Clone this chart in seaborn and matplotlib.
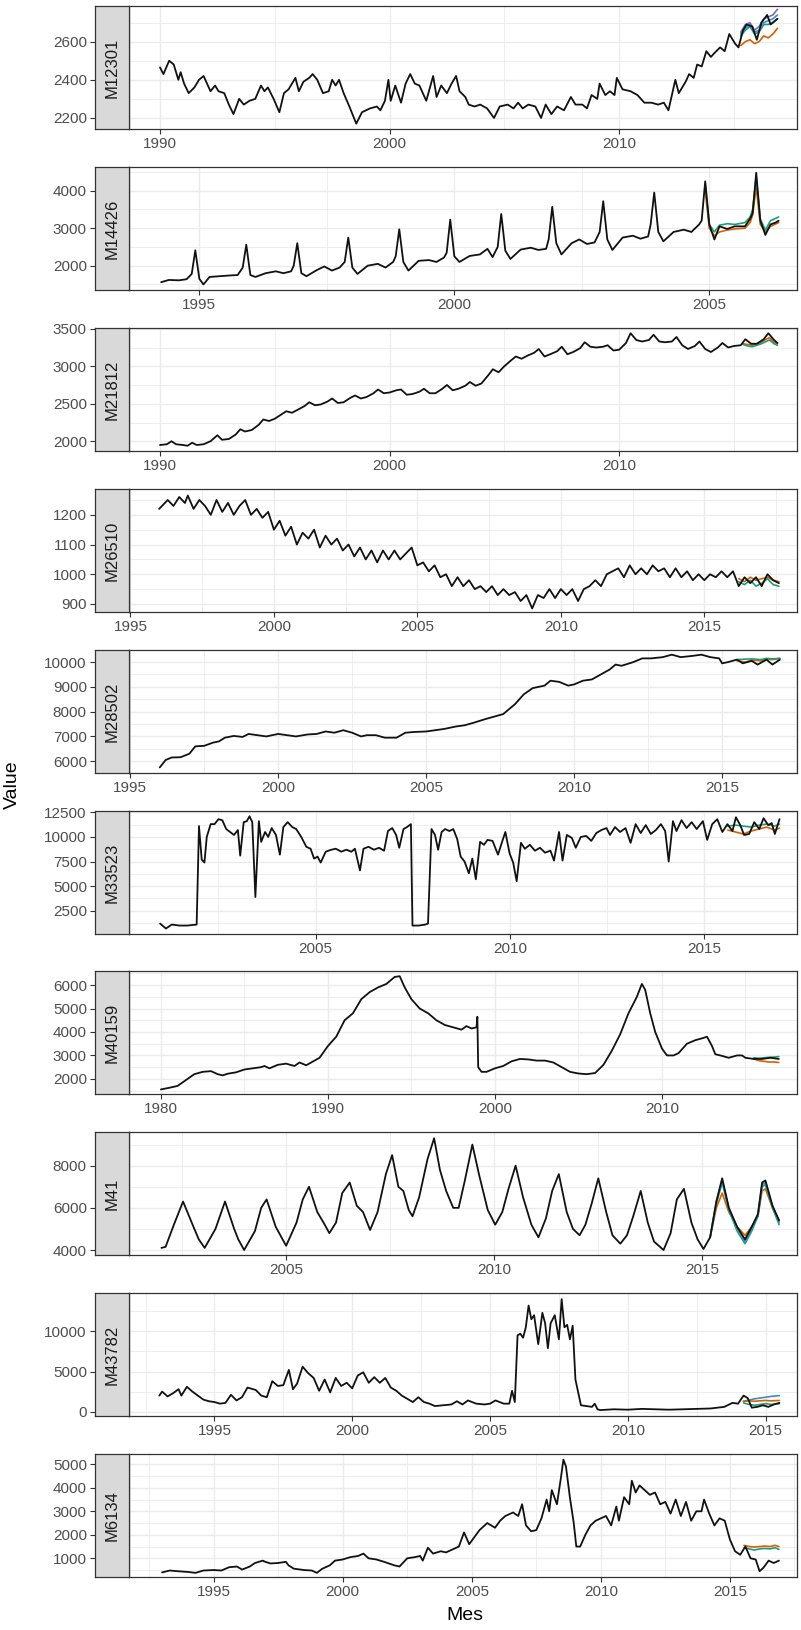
import matplotlib
matplotlib.use("Agg")
import matplotlib.pyplot as plt
import pandas as pd
import seaborn as sns
from matplotlib.ticker import MultipleLocator, FuncFormatter

# ------------------------------------------------------------------ data
# (decimal year, value) pairs
m12301 = [(1990.0,2465),(1990.15,2430),(1990.4,2500),(1990.6,2480),(1990.7,2440),(1990.8,2400),(1990.9,2440),
          (1991.05,2380),(1991.25,2330),(1991.5,2360),(1991.7,2400),(1991.9,2420),(1992.05,2380),(1992.2,2340),
          (1992.4,2370),(1992.55,2340),(1992.8,2330),(1993.0,2270),(1993.2,2220),(1993.45,2300),(1993.65,2270),
          (1993.9,2290),(1994.15,2300),(1994.4,2370),(1994.55,2340),(1994.7,2360),(1994.95,2300),(1995.2,2230),
          (1995.4,2330),(1995.6,2350),(1995.9,2410),(1996.05,2340),(1996.25,2390),(1996.5,2410),(1996.65,2430),
          (1996.85,2400),(1997.1,2330),(1997.35,2340),(1997.5,2400),(1997.65,2370),(1997.8,2400),(1998.0,2330),
          (1998.25,2260),(1998.55,2170),(1998.8,2230),(1999.15,2250),(1999.45,2260),(1999.6,2240),(1999.8,2290),
          (1999.95,2400),(2000.05,2290),(2000.25,2370),(2000.5,2280),(2000.7,2380),(2000.9,2430),(2001.1,2380),
          (2001.3,2370),(2001.6,2290),(2001.9,2420),(2002.05,2310),(2002.25,2370),(2002.5,2330),(2002.7,2380),
          (2002.9,2420),(2003.05,2340),(2003.3,2310),(2003.45,2270),(2003.7,2260),(2003.95,2270),(2004.25,2250),
          (2004.55,2200),(2004.8,2260),(2005.15,2270),(2005.4,2250),(2005.6,2280),(2005.8,2250),(2006.05,2270),
          (2006.35,2260),(2006.6,2200),(2006.8,2270),(2007.05,2220),(2007.3,2260),(2007.6,2240),(2007.9,2310),
          (2008.1,2270),(2008.4,2270),(2008.6,2250),(2008.8,2320),(2009.05,2300),(2009.15,2380),(2009.4,2320),
          (2009.6,2340),(2009.8,2320),(2009.9,2410),(2010.15,2350),(2010.5,2340),(2010.8,2320),(2011.1,2280),
          (2011.4,2280),(2011.7,2270),(2011.95,2280),(2012.15,2240),(2012.45,2400),(2012.6,2330),(2012.9,2390),
          (2013.05,2430),(2013.25,2410),(2013.4,2480),(2013.6,2470),(2013.8,2550),(2014.0,2520),(2014.15,2540),
          (2014.4,2570),(2014.6,2550),(2014.8,2640),(2015.05,2590),(2015.2,2570),(2015.4,2660),(2015.55,2690),
          (2015.8,2680),(2016.0,2610),(2016.2,2700),(2016.45,2740),(2016.6,2690),(2016.9,2720)]
m12301_fc_t = [2015.3, 2015.5, 2015.7, 2015.9, 2016.1, 2016.3, 2016.5, 2016.7, 2016.9]
m12301_fc = {"ETS":   [2580, 2600, 2610, 2590, 2600, 2630, 2620, 2640, 2670],
             "ARIMA": [2630, 2660, 2680, 2640, 2650, 2690, 2690, 2700, 2720],
             "TBATS": [2640, 2670, 2690, 2650, 2660, 2700, 2710, 2720, 2740],
             "NNAR":  [2650, 2690, 2700, 2660, 2680, 2720, 2730, 2740, 2770]}

m14426 = [(1994.25,1560),(1994.4,1620),(1994.6,1610),(1994.75,1640),(1994.85,1780),(1994.92,2410),(1995.0,1650),
          (1995.08,1500),(1995.2,1700),(1995.4,1720),(1995.6,1740),(1995.75,1750),(1995.85,1950),(1995.92,2560),
          (1996.0,1750),(1996.1,1700),(1996.3,1800),(1996.5,1850),(1996.65,1800),(1996.8,1850),(1996.85,2000),
          (1996.92,2600),(1997.0,1800),(1997.1,1720),(1997.3,1880),(1997.45,1980),(1997.6,1870),(1997.75,1950),
          (1997.85,2100),(1997.92,2750),(1998.0,1950),(1998.1,1780),(1998.3,2000),(1998.5,2050),(1998.65,1950),
          (1998.8,2100),(1998.85,2250),(1998.92,2970),(1999.0,2100),(1999.1,1870),(1999.3,2130),(1999.5,2150),
          (1999.65,2100),(1999.8,2220),(1999.85,2350),(1999.92,3230),(2000.0,2250),(2000.1,2100),(2000.3,2260),
          (2000.5,2300),(2000.65,2450),(2000.75,2230),(2000.85,2500),(2000.92,3380),(2001.0,2400),(2001.1,2180),
          (2001.3,2430),(2001.5,2480),(2001.65,2420),(2001.8,2450),(2001.85,2700),(2001.92,3570),(2002.0,2600),
          (2002.1,2300),(2002.3,2600),(2002.45,2700),(2002.6,2580),(2002.75,2620),(2002.85,2900),(2002.92,3720),
          (2003.0,2700),(2003.1,2420),(2003.3,2750),(2003.5,2800),(2003.65,2720),(2003.8,2780),(2003.85,3100),
          (2003.92,3950),(2004.0,2900),(2004.1,2650),(2004.3,2900),(2004.5,2960),(2004.65,2900),(2004.8,3100),
          (2004.85,3200),(2004.92,4250),(2005.0,3100),(2005.1,2700),(2005.2,3050),(2005.35,2980),(2005.5,3050),
          (2005.7,3050),(2005.8,3250),(2005.85,3400),(2005.92,4480),(2006.0,3200),(2006.1,2820),(2006.2,3100),
          (2006.3,3150),(2006.36,3200)]
m14426_fc_t = [2004.92, 2005.0, 2005.1, 2005.2, 2005.35, 2005.5, 2005.7, 2005.8, 2005.85, 2005.92, 2006.0, 2006.1,
               2006.2, 2006.36]
m14426_fc = {"ETS":   [4000, 3000, 2800, 2900, 2950, 2980, 3000, 3150, 3350, 4100, 3100, 2900, 3050, 3150],
             "ARIMA": [4200, 3100, 2900, 3080, 3120, 3100, 3150, 3300, 3500, 4350, 3250, 2950, 3200, 3300]}

m21812 = [(1990.0,1950),(1990.3,1960),(1990.5,2000),(1990.7,1960),(1991.0,1950),(1991.2,1940),(1991.4,1980),
          (1991.6,1950),(1991.9,1960),(1992.2,2000),(1992.5,2080),(1992.7,2020),(1993.0,2030),(1993.3,2090),
          (1993.5,2160),(1993.7,2130),(1994.0,2150),(1994.3,2220),(1994.5,2290),(1994.75,2270),(1995.0,2300),
          (1995.3,2360),(1995.5,2400),(1995.75,2380),(1996.0,2420),(1996.3,2470),(1996.5,2520),(1996.75,2480),
          (1997.0,2490),(1997.3,2530),(1997.5,2570),(1997.75,2510),(1998.0,2520),(1998.3,2580),(1998.5,2610),
          (1998.75,2570),(1999.0,2590),(1999.3,2640),(1999.5,2690),(1999.75,2640),(2000.0,2650),(2000.3,2680),
          (2000.5,2690),(2000.75,2620),(2001.0,2630),(2001.3,2660),(2001.5,2700),(2001.75,2640),(2002.0,2640),
          (2002.3,2700),(2002.5,2750),(2002.75,2680),(2003.0,2700),(2003.3,2740),(2003.5,2790),(2003.75,2740),
          (2004.0,2770),(2004.3,2880),(2004.5,2960),(2004.75,2920),(2005.0,3000),(2005.3,3080),(2005.5,3130),
          (2005.75,3100),(2006.0,3140),(2006.3,3180),(2006.5,3230),(2006.75,3130),(2007.0,3160),(2007.3,3200),
          (2007.5,3260),(2007.75,3160),(2008.0,3190),(2008.3,3240),(2008.5,3320),(2008.75,3260),(2009.0,3250),
          (2009.3,3260),(2009.5,3280),(2009.75,3210),(2010.0,3220),(2010.3,3310),(2010.5,3440),(2010.75,3350),
          (2011.0,3330),(2011.3,3350),(2011.5,3420),(2011.75,3330),(2012.0,3320),(2012.3,3330),(2012.5,3390),
          (2012.75,3280),(2013.0,3230),(2013.3,3270),(2013.5,3330),(2013.75,3230),(2014.0,3190),(2014.3,3250),
          (2014.5,3310),(2014.75,3250),(2015.0,3270),(2015.3,3280),(2015.5,3360),(2015.75,3300),(2016.0,3300),
          (2016.3,3360),(2016.5,3440),(2016.75,3350),(2016.9,3310)]
m21812_fc_t = [2015.4, 2015.6, 2015.8, 2016.0, 2016.2, 2016.4, 2016.55, 2016.75, 2016.9]
m21812_fc = {"ETS":   [3300, 3290, 3280, 3300, 3320, 3360, 3380, 3320, 3300],
             "ARIMA": [3290, 3270, 3260, 3280, 3300, 3330, 3350, 3300, 3280]}

m26510 = [(1996.0,1220),(1996.3,1250),(1996.5,1230),(1996.7,1260),(1996.9,1240),(1997.0,1265),(1997.2,1220),
          (1997.4,1250),(1997.6,1230),(1997.8,1200),(1998.0,1250),(1998.2,1210),(1998.4,1240),(1998.6,1200),
          (1998.8,1230),(1999.0,1250),(1999.2,1200),(1999.4,1220),(1999.6,1190),(1999.8,1210),(2000.0,1150),
          (2000.2,1180),(2000.4,1130),(2000.6,1160),(2000.8,1100),(2001.0,1140),(2001.2,1120),(2001.4,1150),
          (2001.6,1090),(2001.8,1130),(2002.0,1100),(2002.2,1120),(2002.4,1080),(2002.6,1100),(2002.8,1060),
          (2003.0,1090),(2003.2,1050),(2003.4,1080),(2003.6,1040),(2003.8,1080),(2004.0,1050),(2004.2,1080),
          (2004.4,1050),(2004.6,1070),(2004.8,1090),(2005.0,1030),(2005.2,1040),(2005.4,1010),(2005.6,1030),
          (2005.8,990),(2006.0,1000),(2006.2,960),(2006.4,990),(2006.6,960),(2006.8,980),(2007.0,950),
          (2007.2,960),(2007.4,940),(2007.6,960),(2007.8,930),(2008.0,950),(2008.2,930),(2008.4,940),
          (2008.6,910),(2008.8,930),(2009.0,885),(2009.2,930),(2009.4,920),(2009.6,950),(2009.8,920),
          (2010.0,950),(2010.2,930),(2010.4,950),(2010.6,910),(2010.8,950),(2011.0,960),(2011.2,980),
          (2011.4,960),(2011.6,1000),(2011.8,1010),(2012.0,1020),(2012.2,990),(2012.4,1030),(2012.6,1000),
          (2012.8,1020),(2013.0,1000),(2013.2,1030),(2013.4,1010),(2013.6,1020),(2013.8,990),(2014.0,1020),
          (2014.2,990),(2014.4,1010),(2014.6,980),(2014.8,1000),(2015.0,980),(2015.2,1000),(2015.4,990),
          (2015.6,1010),(2015.8,990),(2016.0,1010),(2016.2,960),(2016.4,990),(2016.6,970),(2016.8,990),
          (2017.0,960),(2017.2,1000),(2017.4,980),(2017.6,970)]
m26510_fc_t = [2016.2, 2016.4, 2016.6, 2016.8, 2017.0, 2017.2, 2017.4, 2017.6]
m26510_fc = {"ETS":   [985, 975, 990, 980, 985, 990, 980, 975],
             "ARIMA": [975, 965, 980, 960, 970, 985, 965, 960]}

m28502 = [(1996.0,5750),(1996.2,6050),(1996.4,6150),(1996.7,6160),(1997.0,6300),(1997.2,6600),(1997.5,6620),
          (1997.8,6750),(1998.0,6800),(1998.2,6950),(1998.5,7020),(1998.8,6980),(1999.0,7100),(1999.3,7050),
          (1999.6,7000),(2000.0,7100),(2000.3,7050),(2000.6,7000),(2001.0,7080),(2001.3,7100),(2001.6,7200),
          (2001.9,7150),(2002.2,7250),(2002.5,7150),(2002.8,7000),(2003.0,7050),(2003.3,7050),(2003.6,6950),
          (2004.0,6950),(2004.3,7150),(2004.6,7180),(2005.0,7200),(2005.3,7250),(2005.6,7300),(2006.0,7400),
          (2006.3,7450),(2006.6,7550),(2007.0,7700),(2007.3,7800),(2007.6,7900),(2008.0,8300),(2008.3,8700),
          (2008.6,8950),(2009.0,9050),(2009.2,9250),(2009.5,9200),(2009.8,9050),(2010.0,9100),(2010.3,9250),
          (2010.6,9300),(2010.9,9500),(2011.2,9700),(2011.4,9900),(2011.6,9850),(2012.0,10000),(2012.3,10150),
          (2012.6,10150),(2013.0,10200),(2013.3,10300),(2013.6,10200),(2014.0,10250),(2014.3,10300),
          (2014.6,10200),(2014.9,10150),(2015.0,9950),(2015.2,10000),(2015.5,10100),(2015.7,9950),
          (2016.0,10050),(2016.2,9900),(2016.5,10100),(2016.7,9900),(2016.95,10100)]
m28502_fc_t = [2015.5, 2015.8, 2016.0, 2016.3, 2016.5, 2016.7, 2016.95]
m28502_fc = {"ETS":   [10050, 10000, 10080, 10050, 10120, 10100, 10150],
             "ARIMA": [10100, 10120, 10130, 10100, 10150, 10130, 10150]}

m33523 = [(2001.0,1200),(2001.15,700),(2001.3,1100),(2001.5,1000),(2001.7,1000),(2001.94,1100),(2002.0,11100),
          (2002.07,7700),(2002.14,7400),(2002.2,10000),(2002.3,11300),(2002.4,11300),(2002.5,11800),
          (2002.6,11700),(2002.7,10800),(2002.8,10500),(2002.9,10200),(2003.0,10700),(2003.06,8100),
          (2003.15,11500),(2003.23,11600),(2003.3,12100),(2003.37,11500),(2003.45,3900),(2003.54,11600),
          (2003.6,9500),(2003.7,10500),(2003.78,10000),(2003.87,10900),(2003.98,10200),(2004.08,8200),
          (2004.17,11000),(2004.28,11500),(2004.4,11000),(2004.5,10800),(2004.63,10000),(2004.76,9000),
          (2004.87,8800),(2004.96,7800),(2005.05,8000),(2005.13,7400),(2005.26,8500),(2005.4,8700),
          (2005.52,8800),(2005.66,8500),(2005.79,8700),(2005.92,8500),(2006.01,8800),(2006.14,6600),
          (2006.23,8800),(2006.36,9000),(2006.5,8700),(2006.63,8900),(2006.76,8600),(2006.86,10600),
          (2006.97,10900),(2007.07,10200),(2007.15,8900),(2007.26,10800),(2007.35,11000),(2007.45,11300),
          (2007.49,1000),(2007.65,1000),(2007.82,1100),(2007.89,1200),(2007.98,10800),(2008.07,10200),
          (2008.15,8700),(2008.24,10500),(2008.33,10800),(2008.44,10600),(2008.54,10800),(2008.64,9800),
          (2008.73,8000),(2008.83,7500),(2008.94,6300),(2009.03,7800),(2009.12,5700),(2009.23,9500),
          (2009.33,9200),(2009.42,9700),(2009.55,9600),(2009.69,8200),(2009.82,9800),(2009.88,10500),
          (2009.99,8300),(2010.08,7400),(2010.17,5500),(2010.28,9400),(2010.38,8800),(2010.51,9200),
          (2010.64,8600),(2010.77,8900),(2010.9,8400),(2011.04,8600),(2011.13,7600),(2011.26,10500),
          (2011.35,7600),(2011.46,10200),(2011.59,9900),(2011.69,8900),(2011.82,10000),(2011.96,10100),
          (2012.09,9600),(2012.22,10400),(2012.35,10700),(2012.48,10900),(2012.57,10200),(2012.7,11000),
          (2012.83,10500),(2012.97,10900),(2013.1,9400),(2013.23,11300),(2013.36,10400),(2013.49,11200),
          (2013.62,10300),(2013.75,10700),(2013.88,11300),(2013.99,10600),(2014.08,7500),(2014.19,11600),
          (2014.28,10600),(2014.41,11700),(2014.54,10900),(2014.67,11500),(2014.8,10800),(2014.96,11600),
          (2015.07,9700),(2015.2,11300),(2015.33,11800),(2015.46,10500),(2015.59,11300),(2015.72,10600),
          (2015.81,12000),(2015.92,11200),(2016.02,10200),(2016.15,10300),(2016.28,11500),(2016.41,10800),
          (2016.52,11900),(2016.64,11200),(2016.73,11400),(2016.81,10300),(2016.93,11800)]
m33523_fc_t = [2015.6, 2015.8, 2016.0, 2016.2, 2016.4, 2016.6, 2016.8, 2016.93]
m33523_fc = {"ETS":   [10700, 10500, 10300, 10600, 10800, 11000, 10700, 10900],
             "ARIMA": [11100, 11200, 11100, 11000, 11200, 11300, 11100, 11300]}

m40159 = [(1980.0,1550),(1980.5,1620),(1981.0,1700),(1981.5,1950),(1982.0,2200),(1982.5,2300),(1983.0,2330),
          (1983.4,2200),(1983.7,2150),(1984.0,2220),(1984.5,2280),(1985.0,2400),(1985.5,2450),(1986.0,2500),
          (1986.2,2550),(1986.5,2450),(1987.0,2600),(1987.5,2650),(1988.0,2550),(1988.3,2700),(1988.7,2580),
          (1989.0,2700),(1989.5,2900),(1990.0,3400),(1990.5,3800),(1991.0,4500),(1991.5,4800),(1992.0,5400),
          (1992.5,5700),(1993.0,5900),(1993.5,6050),(1994.0,6350),(1994.3,6380),(1994.6,5900),(1995.0,5400),
          (1995.5,5000),(1996.0,4800),(1996.5,4500),(1997.0,4300),(1997.5,4200),(1998.0,4100),(1998.3,4250),
          (1998.6,4150),(1998.9,4200),(1998.95,4650),(1999.0,2500),(1999.2,2300),(1999.5,2300),(2000.0,2450),
          (2000.5,2550),(2001.0,2750),(2001.5,2850),(2002.0,2830),(2002.5,2780),(2003.0,2780),(2003.5,2700),
          (2004.0,2500),(2004.5,2300),(2005.0,2230),(2005.5,2200),(2006.0,2250),(2006.5,2600),(2007.0,3200),
          (2007.5,3900),(2008.0,4800),(2008.5,5500),(2008.8,6050),(2009.0,5800),(2009.3,4800),(2009.6,4000),
          (2010.0,3300),(2010.3,3000),(2010.7,3000),(2011.0,3100),(2011.5,3500),(2012.0,3650),(2012.5,3750),
          (2012.7,3800),(2013.0,3400),(2013.2,3050),(2013.5,3000),(2014.0,2900),(2014.5,3000),(2014.8,3000),
          (2015.0,2900),(2015.5,2850),(2016.0,2850),(2016.5,2900),(2017.0,2850)]
m40159_fc_t = [2015.5, 2015.8, 2016.1, 2016.4, 2016.7, 2017.0]
m40159_fc = {"ETS":   [2850, 2780, 2750, 2720, 2720, 2700],
             "ARIMA": [2900, 2880, 2900, 2920, 2930, 2950]}

m41 = [(2002.0,4100),(2002.1,4150),(2002.3,5200),(2002.52,6300),(2002.75,5200),(2002.9,4500),(2003.04,4100),
       (2003.3,5000),(2003.53,6300),(2003.75,5000),(2003.85,4500),(2003.99,4000),(2004.25,4900),(2004.4,6000),
       (2004.53,6400),(2004.75,5100),(2005.0,4200),(2005.25,5300),(2005.4,6400),(2005.55,7000),(2005.75,5800),
       (2005.9,5300),(2006.04,4800),(2006.2,5300),(2006.35,6700),(2006.53,7200),(2006.7,6100),(2006.85,5800),
       (2007.02,4950),(2007.2,5800),(2007.4,7600),(2007.55,8500),(2007.7,7000),(2007.82,6800),(2007.95,5900),
       (2008.04,5600),(2008.2,6500),(2008.4,8300),(2008.56,9300),(2008.7,7800),(2008.85,6800),(2009.02,6000),
       (2009.15,6000),(2009.3,7300),(2009.48,9000),(2009.65,7500),(2009.85,5900),(2010.03,5200),(2010.2,5800),
       (2010.35,6900),(2010.52,8000),(2010.7,6500),(2010.9,5200),(2011.07,4600),(2011.25,5500),(2011.4,6800),
       (2011.56,7600),(2011.75,5800),(2011.9,5000),(2012.06,4700),(2012.2,5200),(2012.35,6200),(2012.51,7400),
       (2012.7,5800),(2012.85,4700),(2013.04,4300),(2013.2,4700),(2013.35,5600),(2013.53,6800),(2013.7,5300),
       (2013.85,4400),(2014.08,4000),(2014.25,4800),(2014.4,6400),(2014.57,6900),(2014.75,5300),(2014.9,4500),
       (2015.04,4050),(2015.2,4600),(2015.35,6300),(2015.49,7400),(2015.65,6000),(2015.85,5100),(2016.04,4500),
       (2016.2,5100),(2016.35,5700),(2016.45,7200),(2016.53,7300),(2016.7,6100),(2016.86,5400)]
m41_fc_t = [2015.2, 2015.35, 2015.49, 2015.65, 2015.85, 2016.04, 2016.2, 2016.35, 2016.45, 2016.53, 2016.7, 2016.86]
m41_fc = {"ETS":   [4600, 6000, 6700, 5800, 5100, 4700, 5100, 5600, 6800, 6900, 6000, 5400],
          "ARIMA": [4600, 6200, 7200, 5900, 4900, 4300, 4900, 5600, 7000, 7100, 6000, 5200],
          "TBATS": [4600, 6300, 7300, 6000, 5000, 4400, 5000, 5700, 7100, 7200, 6100, 5300]}

m43782 = [(1993.0,2000),(1993.1,2500),(1993.3,1900),(1993.5,2300),(1993.7,2800),(1993.8,2000),(1994.0,3100),
          (1994.2,2500),(1994.4,2000),(1994.6,1500),(1994.8,1300),(1995.0,1200),(1995.2,1000),(1995.4,1100),
          (1995.6,2100),(1995.8,1400),(1996.0,1800),(1996.2,3000),(1996.5,2700),(1996.7,2000),(1996.9,1800),
          (1997.1,3800),(1997.3,3200),(1997.5,3300),(1997.7,5200),(1997.85,2800),(1998.0,3500),(1998.2,5600),
          (1998.4,4800),(1998.6,4200),(1998.8,2600),(1999.0,4000),(1999.2,2400),(1999.4,4200),(1999.6,3200),
          (1999.8,3600),(2000.0,2900),(2000.2,4500),(2000.4,4900),(2000.6,3600),(2000.8,4300),(2001.0,3600),
          (2001.2,4200),(2001.4,3000),(2001.6,2600),(2001.8,2000),(2002.0,1600),(2002.2,1200),(2002.4,1800),
          (2002.6,1200),(2002.8,1000),(2003.0,700),(2003.3,800),(2003.6,900),(2003.8,1300),(2004.0,900),
          (2004.2,1400),(2004.5,1000),(2004.8,900),(2005.0,1000),(2005.2,1400),(2005.5,1000),(2005.7,1000),
          (2005.8,2600),(2005.9,1200),(2006.0,9500),(2006.1,9700),(2006.2,9200),(2006.3,10500),(2006.4,13200),
          (2006.5,11500),(2006.6,12000),(2006.75,8400),(2006.9,12300),(2007.0,11000),(2007.1,7900),
          (2007.2,11000),(2007.35,12000),(2007.5,9000),(2007.6,14000),(2007.7,10500),(2007.8,10800),
          (2007.9,9000),(2008.0,10700),(2008.1,4000),(2008.2,2400),(2008.3,800),(2008.5,700),(2008.7,600),
          (2008.8,1000),(2008.9,300),(2009.0,200),(2009.5,300),(2010.0,250),(2010.5,350),(2011.0,300),
          (2011.5,250),(2012.0,300),(2012.5,350),(2013.0,400),(2013.5,600),(2013.8,1100),(2014.0,1000),
          (2014.2,2000),(2014.35,1700),(2014.5,500),(2014.7,600),(2014.9,800),(2015.1,600),(2015.3,900),
          (2015.5,1100)]
m43782_fc_t = [2014.2, 2014.4, 2014.6, 2014.8, 2015.0, 2015.2, 2015.5]
m43782_fc = {"TBATS": [1300, 1450, 1600, 1700, 1800, 1900, 2000],
             "ETS":   [1300, 1350, 1300, 1350, 1400, 1350, 1400],
             "ARIMA": [1100, 900, 800, 900, 1000, 900, 1000]}

m6134 = [(1993.0,400),(1993.3,480),(1993.6,450),(1994.0,420),(1994.3,380),(1994.6,480),(1995.0,500),(1995.3,480),
         (1995.6,620),(1995.9,650),(1996.1,520),(1996.4,650),(1996.6,800),(1996.9,900),(1997.0,850),(1997.2,780),
         (1997.5,800),(1997.8,850),(1997.9,700),(1998.1,560),(1998.5,500),(1998.8,480),(1999.0,380),(1999.2,550),
         (1999.5,700),(1999.7,900),(2000.0,950),(2000.3,1050),(2000.6,1100),(2000.8,1200),(2001.0,1000),
         (2001.3,950),(2001.6,850),(2002.0,700),(2002.2,650),(2002.5,1000),(2002.8,1050),(2003.0,1100),
         (2003.1,900),(2003.3,1450),(2003.5,1200),(2003.8,1300),(2004.0,1250),(2004.3,1400),(2004.5,1500),
         (2004.7,2100),(2004.9,1600),(2005.1,1900),(2005.3,2200),(2005.6,2500),(2005.9,2300),(2006.1,2600),
         (2006.3,2800),(2006.6,2950),(2006.8,2800),(2006.95,3300),(2007.1,2400),(2007.3,2150),(2007.5,2200),
         (2007.7,2700),(2007.9,3500),(2008.0,3000),(2008.1,3900),(2008.3,3300),(2008.45,4400),(2008.55,5200),
         (2008.65,4900),(2008.8,3600),(2008.95,2500),(2009.05,1500),(2009.2,1500),(2009.4,2000),(2009.6,2400),
         (2009.8,2600),(2010.0,2700),(2010.2,2800),(2010.4,2400),(2010.6,3200),(2010.7,2600),(2010.9,3600),
         (2011.1,3300),(2011.2,4300),(2011.35,3800),(2011.5,4100),(2011.7,3900),(2011.9,3700),(2012.1,3800),
         (2012.3,3300),(2012.5,3400),(2012.7,2900),(2012.9,3500),(2013.1,2800),(2013.3,3400),(2013.5,2600),
         (2013.7,3000),(2013.9,3000),(2014.0,3500),(2014.2,2900),(2014.4,2400),(2014.6,2700),(2014.8,2600),
         (2015.0,1800),(2015.2,1300),(2015.4,1150),(2015.6,1500),(2015.8,1000),(2016.0,950),(2016.15,450),
         (2016.3,600),(2016.5,900),(2016.7,800),(2016.9,900)]
m6134_fc_t = [2015.55, 2015.75, 2015.95, 2016.15, 2016.35, 2016.55, 2016.75, 2016.9]
m6134_fc = {"ETS":   [1550, 1500, 1480, 1500, 1520, 1500, 1550, 1500],
            "ARIMA": [1450, 1400, 1350, 1400, 1420, 1400, 1450, 1380]}

series_names = ["M12301", "M14426", "M21812", "M26510", "M28502",
                "M33523", "M40159", "M41", "M43782", "M6134"]
series_actual = [m12301, m14426, m21812, m26510, m28502, m33523, m40159, m41, m43782, m6134]
series_fc_t = [m12301_fc_t, m14426_fc_t, m21812_fc_t, m26510_fc_t, m28502_fc_t,
               m33523_fc_t, m40159_fc_t, m41_fc_t, m43782_fc_t, m6134_fc_t]
series_fc = [m12301_fc, m14426_fc, m21812_fc, m26510_fc, m28502_fc,
             m33523_fc, m40159_fc, m41_fc, m43782_fc, m6134_fc]

# ------------------------------------------------------------------ layout / style
x_limits = [(1988.65, 2017.75), (1993.62, 2006.72), (1988.65, 2017.75), (1994.95, 2018.23),
            (1994.96, 2017.53), (2000.2, 2017.38), (1978.09, 2018.09), (2001.22, 2017.29),
            (1991.9, 2016.14), (1991.72, 2017.6)]
y_limits = [(2142, 2787), (1352, 4632), (1870, 3510), (873, 1287), (5524, 10488),
            (143, 12633), (1355, 6602), (3763, 9597), (-535, 14764), (204, 5438)]
x_steps = [10, 5, 10, 5, 5, 5, 10, 5, 5, 5]
y_steps = [200, 1000, 500, 100, 1000, 2500, 1000, 2000, 5000, 1000]
palette = {"ETS": "#D95F02", "ARIMA": "#1B9E77", "TBATS": "#3C8DC8", "NNAR": "#7570B3"}

sns.set_theme(style="white")
plt.rcParams["font.family"] = ["Liberation Sans", "DejaVu Sans"]

W, H = 801, 1630
fig = plt.figure(figsize=(W / 100, H / 100), dpi=100)
tops = [6, 167, 328, 489, 650, 811, 971, 1132, 1293, 1454]
PH = 123
PX_L, PX_R, STRIP_L = 129, 797, 94.5
BORDER = "#333333"
TICKC = "#4D4D4D"
GRID = "#EBEBEB"
fmt = FuncFormatter(lambda v, p: f"{int(round(v))}")

for i, name in enumerate(series_names):
    top = tops[i]
    ax = fig.add_axes([PX_L / W, 1 - (top + PH) / H, (PX_R - PX_L) / W, PH / H])
    sx = fig.add_axes([STRIP_L / W, 1 - (top + PH) / H, (PX_L - STRIP_L) / W, PH / H])

    # forecasts
    rows = []
    for model, vals in series_fc[i].items():
        for t, v in zip(series_fc_t[i], vals):
            rows.append({"t": t, "v": v, "model": model})
    fdf = pd.DataFrame(rows)
    sns.lineplot(data=fdf, x="t", y="v", hue="model", palette=palette, ax=ax,
                 legend=False, estimator=None, sort=False, linewidth=1.2)
    # actual series
    adf = pd.DataFrame(series_actual[i], columns=["t", "v"])
    sns.lineplot(data=adf, x="t", y="v", ax=ax, color="#111111",
                 estimator=None, sort=False, linewidth=1.3)

    xs, ys = x_steps[i], y_steps[i]
    ax.set_xlim(*x_limits[i])
    ax.set_ylim(*y_limits[i])
    ax.xaxis.set_major_locator(MultipleLocator(xs))
    ax.xaxis.set_minor_locator(MultipleLocator(xs / 2))
    ax.yaxis.set_major_locator(MultipleLocator(ys))
    ax.yaxis.set_minor_locator(MultipleLocator(ys / 2))
    ax.xaxis.set_major_formatter(fmt)
    ax.grid(which="major", color=GRID, linewidth=1.0)
    ax.grid(which="minor", color=GRID, linewidth=0.6)
    ax.set_axisbelow(True)
    ax.tick_params(axis="x", which="major", length=3.5, width=0.8, color=BORDER,
                   labelsize=11, labelcolor=TICKC, pad=2, bottom=True)
    ax.tick_params(axis="x", which="minor", length=0)
    ax.tick_params(axis="y", which="both", length=0, labelleft=False)
    for s in ax.spines.values():
        s.set_color(BORDER)
        s.set_linewidth(0.9)
    ax.set_xlabel("")
    ax.set_ylabel("")

    # strip with y tick labels on its left
    sx.set_facecolor("#D9D9D9")
    sx.set_xlim(0, 1)
    sx.set_ylim(*y_limits[i])
    sx.set_xticks([])
    sx.yaxis.set_major_locator(MultipleLocator(ys))
    sx.yaxis.set_major_formatter(fmt)
    sx.tick_params(axis="y", which="major", length=3.5, width=0.8, color=BORDER,
                   labelsize=11, labelcolor=TICKC, pad=2, left=True)
    sx.tick_params(axis="y", which="minor", length=0)
    for s in sx.spines.values():
        s.set_color(BORDER)
        s.set_linewidth(0.9)
    sx.text(0.5, 0.5, name, rotation=90, transform=sx.transAxes, ha="center",
            va="center", fontsize=12, color="#1A1A1A")

fig.text(465 / W, 1 - 1616 / H, "Mes", ha="center", va="center", fontsize=14, color="black")
fig.text(12 / W, 1 - 785 / H, "Value", rotation=90, ha="center", va="center", fontsize=14, color="black")

fig.savefig("out.png", dpi=100)
